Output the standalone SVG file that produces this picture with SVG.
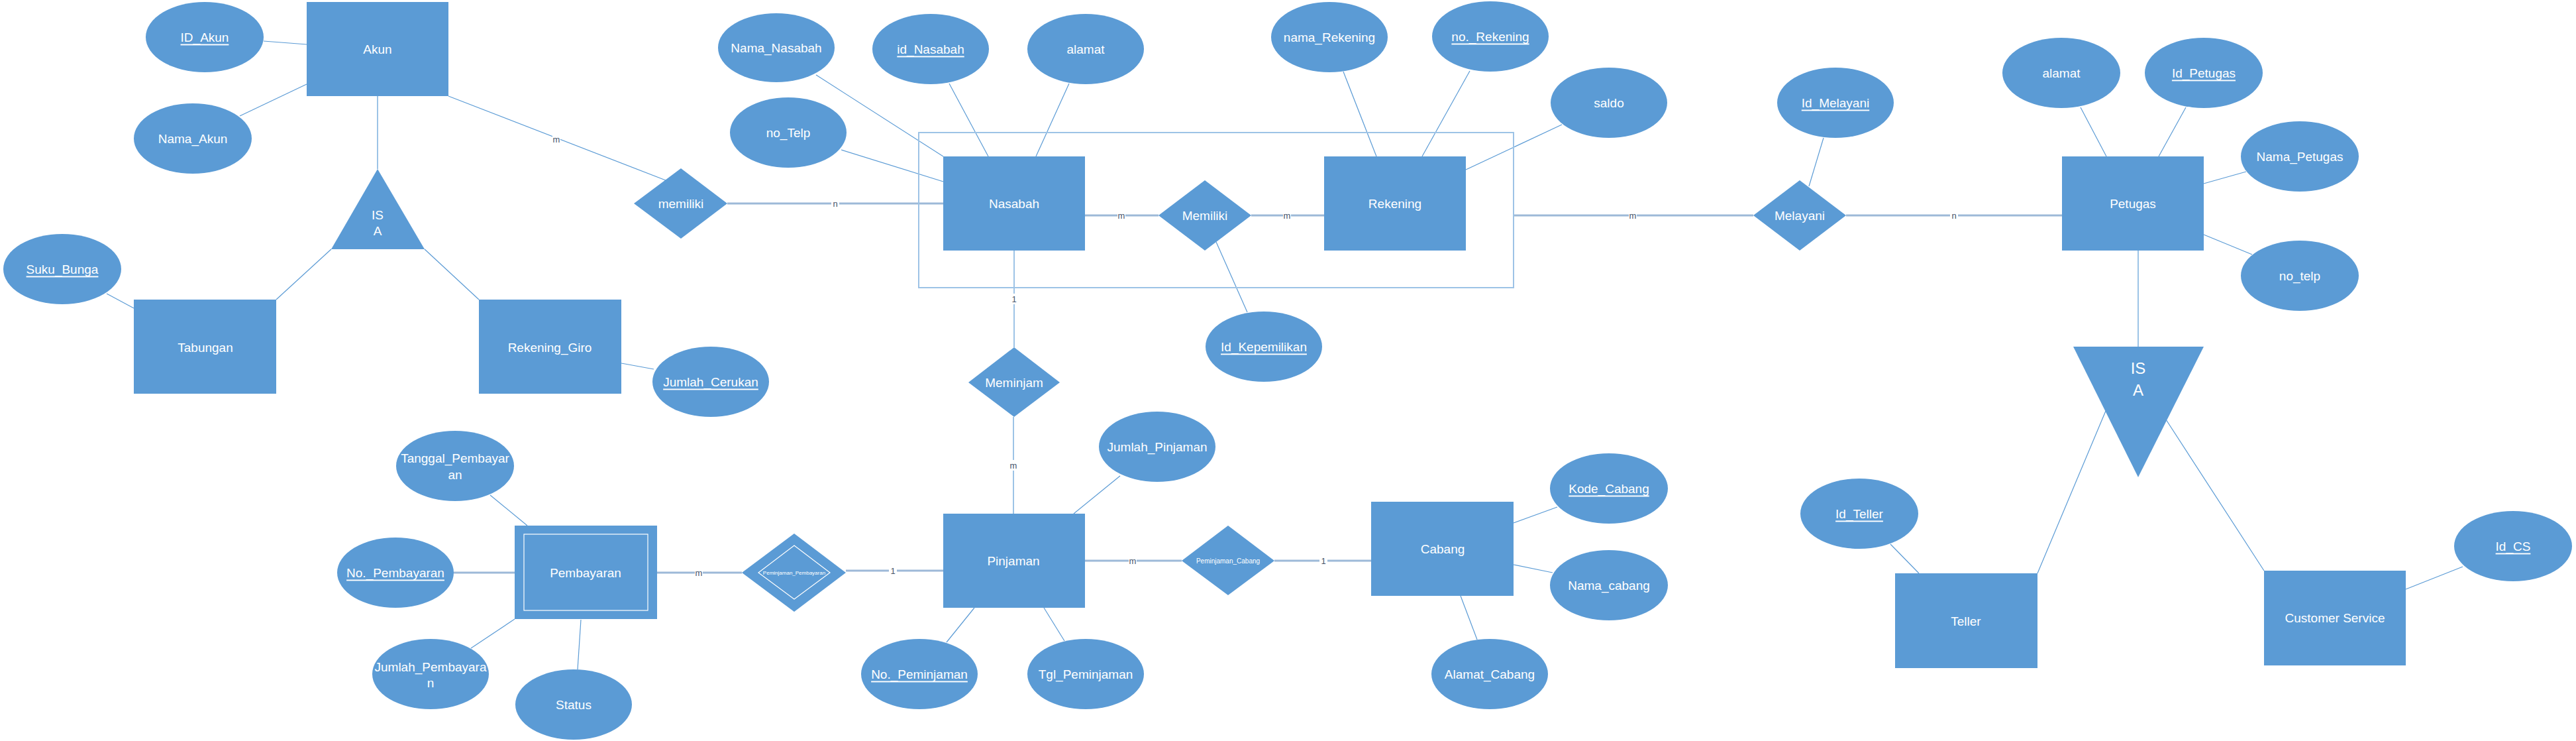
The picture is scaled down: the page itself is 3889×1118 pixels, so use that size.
<svg xmlns="http://www.w3.org/2000/svg" width="3889" height="1118" viewBox="0 0 3889 1118">
<style>
.n{fill:#5B9BD5}
.t{fill:#fff;font-family:"Liberation Sans",Arial,sans-serif;font-size:19px;text-anchor:middle;dominant-baseline:central}
.u{text-decoration:underline}
.c line{stroke:#5B9BD5;stroke-width:1.2}
.c line.k{stroke:#9DB9D8;stroke-width:3}
.card{fill:#44546A;font-family:"Liberation Sans",Arial,sans-serif;font-size:13px;text-anchor:middle;dominant-baseline:central}
.cb{fill:#fff}
</style>
<rect width="3889" height="1118" fill="#fff"/>
<g id="connectors" class="c">
<line x1="398" y1="62" x2="463" y2="67"/>
<line x1="362" y1="175" x2="463" y2="127"/>
<line x1="570" y1="145" x2="570" y2="255"/>
<line x1="500" y1="376" x2="417" y2="452"/>
<line x1="641" y1="376" x2="723" y2="452"/>
<line x1="161" y1="443" x2="202" y2="465"/>
<line x1="938" y1="548" x2="987" y2="557"/>
<line x1="677" y1="145" x2="1005" y2="272"/>
<line class="k" x1="1098" y1="307" x2="1424" y2="307"/>
<line class="k" x1="1638" y1="325" x2="1749" y2="325"/>
<line class="k" x1="1889" y1="325" x2="1999" y2="325"/>
<line x1="1232" y1="113" x2="1424" y2="236"/>
<line x1="1433" y1="126" x2="1492" y2="236"/>
<line x1="1614" y1="126" x2="1564" y2="236"/>
<line x1="1270" y1="226" x2="1424" y2="274"/>
<line x1="2028" y1="108" x2="2078" y2="236"/>
<line x1="2219" y1="107" x2="2147" y2="236"/>
<line x1="2358" y1="188" x2="2213" y2="256"/>
<line x1="1836" y1="365" x2="1883" y2="471"/>
<line x1="1531" y1="378" x2="1531" y2="524"/>
<line class="k" x1="2285" y1="325" x2="2647" y2="325"/>
<line class="k" x1="2787" y1="325" x2="3113" y2="325"/>
<line x1="2753" y1="208" x2="2731" y2="281"/>
<line x1="3141" y1="162" x2="3180" y2="236"/>
<line x1="3300" y1="162" x2="3259" y2="236"/>
<line x1="3391" y1="259" x2="3327" y2="277"/>
<line x1="3400" y1="384" x2="3327" y2="354"/>
<line x1="3228" y1="378" x2="3228" y2="523"/>
<line x1="3179" y1="620" x2="3076" y2="865"/>
<line x1="3270" y1="633" x2="3418" y2="861"/>
<line x1="2854" y1="821" x2="2897" y2="865"/>
<line x1="3718" y1="855" x2="3632" y2="889"/>
<line x1="740" y1="747" x2="796" y2="793"/>
<line class="k" x1="685" y1="864" x2="777" y2="864"/>
<line x1="711" y1="978" x2="777" y2="934"/>
<line x1="872" y1="1010" x2="877" y2="935"/>
<line class="k" x1="992" y1="864" x2="1120" y2="864"/>
<line class="k" x1="1277" y1="861" x2="1424" y2="861"/>
<line x1="1530" y1="629" x2="1530" y2="775"/>
<line x1="1691" y1="718" x2="1621" y2="775"/>
<line x1="1429" y1="969" x2="1471" y2="917"/>
<line x1="1607" y1="967" x2="1576" y2="917"/>
<line class="k" x1="1638" y1="846" x2="1784" y2="846"/>
<line class="k" x1="1924" y1="846" x2="2070" y2="846"/>
<line x1="2351" y1="765" x2="2285" y2="789"/>
<line x1="2344" y1="864" x2="2285" y2="852"/>
<line x1="2230" y1="965" x2="2205" y2="899"/>
<g id="cardinalities">
<rect class="cb" x="834" y="202" width="12" height="16"/><text class="card" x="840" y="210">m</text>
<rect class="cb" x="1255" y="299" width="12" height="16"/><text class="card" x="1261" y="307">n</text>
<rect class="cb" x="1687" y="317" width="12" height="16"/><text class="card" x="1693" y="325">m</text>
<rect class="cb" x="1937" y="317" width="12" height="16"/><text class="card" x="1943" y="325">m</text>
<rect class="cb" x="1525" y="443" width="12" height="16"/><text class="card" x="1531" y="451">1</text>
<rect class="cb" x="2459" y="317" width="12" height="16"/><text class="card" x="2465" y="325">m</text>
<rect class="cb" x="2944" y="317" width="12" height="16"/><text class="card" x="2950" y="325">n</text>
<rect class="cb" x="1524" y="694" width="12" height="16"/><text class="card" x="1530" y="702">m</text>
<rect class="cb" x="1049" y="856" width="12" height="16"/><text class="card" x="1055" y="864">m</text>
<rect class="cb" x="1342" y="853" width="12" height="16"/><text class="card" x="1348" y="861">1</text>
<rect class="cb" x="1704" y="838" width="12" height="16"/><text class="card" x="1710" y="846">m</text>
<rect class="cb" x="1992" y="838" width="12" height="16"/><text class="card" x="1998" y="846">1</text>
</g>
</g>
<rect id="aggregation" x="1387" y="200" width="898" height="234" fill="none" stroke="#9DC3E6" stroke-width="2"/>
<g id="akun"><rect class="n" x="463" y="3" width="214" height="142"/><text class="t" x="570" y="74">Akun</text></g>
<g id="id_akun"><ellipse class="n" cx="309" cy="56" rx="89" ry="53"/><text class="t u" x="309" y="56">ID_Akun</text></g>
<g id="nama_akun"><ellipse class="n" cx="291" cy="209" rx="89" ry="53"/><text class="t" x="291" y="209">Nama_Akun</text></g>
<g id="isa1"><polygon class="n" points="570,255 641,376 500,376"/><text class="t" x="570" y="324">IS</text><text class="t" x="570" y="348">A</text></g>
<g id="tabungan"><rect class="n" x="202" y="452" width="215" height="142"/><text class="t" x="310" y="524">Tabungan</text></g>
<g id="rekening_giro"><rect class="n" x="723" y="452" width="215" height="142"/><text class="t" x="830" y="524">Rekening_Giro</text></g>
<g id="suku_bunga"><ellipse class="n" cx="94" cy="406" rx="89" ry="53"/><text class="t u" x="94" y="406">Suku_Bunga</text></g>
<g id="jumlah_cerukan"><ellipse class="n" cx="1073" cy="576" rx="88" ry="53"/><text class="t u" x="1073" y="576">Jumlah_Cerukan</text></g>
<g id="memiliki1"><polygon class="n" points="1028,254 1098,307 1028,360 957,307"/><text class="t" x="1028" y="307">memiliki</text></g>
<g id="nama_nasabah"><ellipse class="n" cx="1172" cy="72" rx="88" ry="52"/><text class="t" x="1172" y="72">Nama_Nasabah</text></g>
<g id="id_nasabah"><ellipse class="n" cx="1405" cy="74" rx="88" ry="53"/><text class="t u" x="1405" y="74">id_Nasabah</text></g>
<g id="alamat_nasabah"><ellipse class="n" cx="1639" cy="74" rx="88" ry="53"/><text class="t" x="1639" y="74">alamat</text></g>
<g id="no_telp_nasabah"><ellipse class="n" cx="1190" cy="200" rx="88" ry="53"/><text class="t" x="1190" y="200">no_Telp</text></g>
<g id="nasabah"><rect class="n" x="1424" y="236" width="214" height="142"/><text class="t" x="1531" y="307">Nasabah</text></g>
<g id="memiliki2"><polygon class="n" points="1819,272 1889,325 1819,378 1749,325"/><text class="t" x="1819" y="325">Memiliki</text></g>
<g id="rekening"><rect class="n" x="1999" y="236" width="214" height="142"/><text class="t" x="2106" y="307">Rekening</text></g>
<g id="nama_rekening"><ellipse class="n" cx="2007" cy="56" rx="88" ry="53"/><text class="t" x="2007" y="56">nama_Rekening</text></g>
<g id="no_rekening"><ellipse class="n" cx="2250" cy="55" rx="88" ry="53"/><text class="t u" x="2250" y="55">no._Rekening</text></g>
<g id="saldo"><ellipse class="n" cx="2429" cy="155" rx="88" ry="53"/><text class="t" x="2429" y="155">saldo</text></g>
<g id="id_kepemilikan"><ellipse class="n" cx="1908" cy="523" rx="88" ry="53"/><text class="t u" x="1908" y="523">Id_Kepemilikan</text></g>
<g id="meminjam"><polygon class="n" points="1531,524 1600,577 1531,629 1462,577"/><text class="t" x="1531" y="577">Meminjam</text></g>
<g id="melayani"><polygon class="n" points="2717,272 2787,325 2717,378 2647,325"/><text class="t" x="2717" y="325">Melayani</text></g>
<g id="id_melayani"><ellipse class="n" cx="2771" cy="155" rx="88" ry="53"/><text class="t u" x="2771" y="155">Id_Melayani</text></g>
<g id="petugas"><rect class="n" x="3113" y="236" width="214" height="142"/><text class="t" x="3220" y="307">Petugas</text></g>
<g id="alamat_petugas"><ellipse class="n" cx="3112" cy="110" rx="89" ry="53"/><text class="t" x="3112" y="110">alamat</text></g>
<g id="id_petugas"><ellipse class="n" cx="3327" cy="110" rx="89" ry="53"/><text class="t u" x="3327" y="110">Id_Petugas</text></g>
<g id="nama_petugas"><ellipse class="n" cx="3472" cy="236" rx="89" ry="53"/><text class="t" x="3472" y="236">Nama_Petugas</text></g>
<g id="no_telp_petugas"><ellipse class="n" cx="3472" cy="416" rx="89" ry="53"/><text class="t" x="3472" y="416">no_telp</text></g>
<g id="isa2"><polygon class="n" points="3130,523 3327,523 3228,720"/><text class="t" x="3228" y="555" style="font-size:24px">IS</text><text class="t" x="3228" y="588" style="font-size:24px">A</text></g>
<g id="teller"><rect class="n" x="2861" y="865" width="215" height="143"/><text class="t" x="2968" y="937">Teller</text></g>
<g id="customer_service"><rect class="n" x="3418" y="861" width="214" height="143"/><text class="t" x="3525" y="932">Customer Service</text></g>
<g id="id_teller"><ellipse class="n" cx="2807" cy="775" rx="89" ry="53"/><text class="t u" x="2807" y="775">Id_Teller</text></g>
<g id="id_cs"><ellipse class="n" cx="3794" cy="824" rx="89" ry="53"/><text class="t u" x="3794" y="824">Id_CS</text></g>
<g id="tanggal_pembayaran"><ellipse class="n" cx="687" cy="703" rx="89" ry="53"/><text class="t" x="687" y="691">Tanggal_Pembayar</text><text class="t" x="687" y="716">an</text></g>
<g id="pembayaran"><rect class="n" x="777" y="793" width="215" height="141"/><rect x="791" y="806" width="187" height="115" fill="none" stroke="#fff" stroke-width="1.2"/><text class="t" x="884" y="864">Pembayaran</text></g>
<g id="no_pembayaran"><ellipse class="n" cx="597" cy="864" rx="88" ry="53"/><text class="t u" x="597" y="864">No._Pembayaran</text></g>
<g id="jumlah_pembayaran"><ellipse class="n" cx="650" cy="1017" rx="88" ry="53"/><text class="t" x="650" y="1006">Jumlah_Pembayara</text><text class="t" x="650" y="1030">n</text></g>
<g id="status"><ellipse class="n" cx="866" cy="1063" rx="88" ry="53"/><text class="t" x="866" y="1063">Status</text></g>
<g id="peminjaman_pembayaran"><polygon class="n" points="1199,805 1277,864 1199,923 1120,864"/><polygon points="1199,823 1253,864 1199,904 1145,864" fill="none" stroke="#fff" stroke-width="1.2"/><text class="t" x="1199" y="864" style="font-size:8px">Peminjaman_Pembayaran</text></g>
<g id="pinjaman"><rect class="n" x="1424" y="775" width="214" height="142"/><text class="t" x="1530" y="846">Pinjaman</text></g>
<g id="jumlah_pinjaman"><ellipse class="n" cx="1747" cy="674" rx="88" ry="53"/><text class="t" x="1747" y="674">Jumlah_Pinjaman</text></g>
<g id="no_peminjaman"><ellipse class="n" cx="1388" cy="1017" rx="88" ry="53"/><text class="t u" x="1388" y="1017">No._Peminjaman</text></g>
<g id="tgl_peminjaman"><ellipse class="n" cx="1639" cy="1017" rx="88" ry="53"/><text class="t" x="1639" y="1017">Tgl_Peminjaman</text></g>
<g id="peminjaman_cabang"><polygon class="n" points="1854,793 1924,846 1854,898 1784,846"/><text class="t" x="1854" y="846" style="font-size:10px">Peminjaman_Cabang</text></g>
<g id="cabang"><rect class="n" x="2070" y="757" width="215" height="142"/><text class="t" x="2178" y="828">Cabang</text></g>
<g id="kode_cabang"><ellipse class="n" cx="2429" cy="737" rx="89" ry="53"/><text class="t u" x="2429" y="737">Kode_Cabang</text></g>
<g id="nama_cabang"><ellipse class="n" cx="2429" cy="883" rx="89" ry="53"/><text class="t" x="2429" y="883">Nama_cabang</text></g>
<g id="alamat_cabang"><ellipse class="n" cx="2249" cy="1017" rx="88" ry="53"/><text class="t" x="2249" y="1017">Alamat_Cabang</text></g>
</svg>
